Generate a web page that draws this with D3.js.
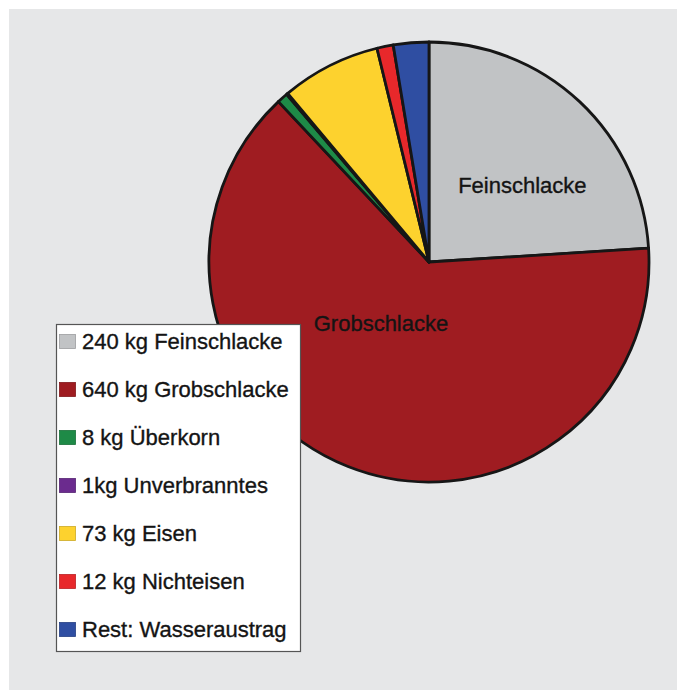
<!DOCTYPE html>
<html>
<head>
<meta charset="utf-8">
<script src="https://cdn.jsdelivr.net/npm/d3@7"></script>
<style>
  html, body { margin: 0; padding: 0; background: #ffffff; }
  svg { display: block; font-family: "Liberation Sans", Arial, Helvetica, sans-serif; }
</style>
</head>
<body>
<svg id="chart"></svg>
<script>
// Anteile der Verbrennungsrückstände (kg je t)
const names = ['Feinschlacke', 'Grobschlacke', 'Überkorn', 'Unverbranntes', 'Eisen', 'Nichteisen', 'Wasseraustrag'];
const values = [240, 640, 8, 1, 73, 12, 26];
const legendLabels = ['240 kg Feinschlacke', '640 kg Grobschlacke', '8 kg Überkorn', '1kg Unverbranntes', '73 kg Eisen', '12 kg Nichteisen', 'Rest: Wasseraustrag'];
const colors = ['#c1c3c5', '#9f1c21', '#1e8a47', '#6b2b8e', '#fdd22e', '#e8282b', '#2f4ea2'];
const sliceLabels = ['Feinschlacke', 'Grobschlacke'];

const WIDTH = 677;
const HEIGHT = 690;
const CENTER = {x: 429, y: 262};
const RADIUS = 220;
// polar position (degrees clockwise from top, distance) of the slice labels
const LABEL_POLAR = {Feinschlacke: [50.5, 121], Grobschlacke: [218, 78]};

const svg = d3.select('#chart')
  .attr('width', WIDTH)
  .attr('height', HEIGHT);

svg.append('rect')
  .attr('x', 9).attr('y', 9)
  .attr('width', WIDTH - 9).attr('height', HEIGHT - 9)
  .attr('fill', '#e6e7e8');

const rows = names.map((n, i) => ({name: n, value: values[i], color: colors[i], legend: legendLabels[i]}));

const pie = d3.pie().sort(null).value(d => d.value);
const arc = d3.arc().innerRadius(0).outerRadius(RADIUS);

const g = svg.append('g').attr('transform', `translate(${CENTER.x},${CENTER.y})`);

g.selectAll('.slice')
  .data(pie(rows))
  .enter()
  .append('path')
  .classed('slice', true)
  .attr('d', arc)
  .attr('fill', d => d.data.color)
  .attr('stroke', '#161616')
  .attr('stroke-width', 2.8)
  .attr('stroke-linejoin', 'round');

g.selectAll('.label')
  .data(sliceLabels)
  .enter()
  .append('text')
  .classed('label', true)
  .attr('transform', d => {
    const p = LABEL_POLAR[d];
    const pt = d3.pointRadial(p[0] * Math.PI / 180, p[1]);
    return `translate(${pt[0]},${pt[1]})`;
  })
  .attr('text-anchor', 'middle')
  .attr('dy', '0.35em')
  .attr('font-size', 22)
  .attr('fill', '#141414')
  .attr('stroke', '#141414')
  .attr('stroke-width', 0.35)
  .text(d => d);

// Legende
const legend = svg.append('g');

legend.append('rect')
  .attr('x', 56.5).attr('y', 324.5)
  .attr('width', 244).attr('height', 327)
  .attr('fill', '#ffffff')
  .attr('stroke', '#555555')
  .attr('stroke-width', 1.2);

const ly = d3.scaleLinear().domain([0, 1]).range([349, 397]);

const items = legend.selectAll('.item')
  .data(rows)
  .enter()
  .append('g')
  .classed('item', true)
  .attr('transform', (d, i) => `translate(0,${ly(i)})`);

items.append('rect')
  .attr('x', 59.5).attr('y', -14.5)
  .attr('width', 16).attr('height', 14)
  .attr('fill', d => d.color)
  .attr('stroke', d => d3.color(d.color).darker(0.6))
  .attr('stroke-width', 0.8);

items.append('text')
  .attr('x', 82)
  .attr('y', 0)
  .attr('font-size', 22)
  .attr('fill', '#141414')
  .attr('stroke', '#141414')
  .attr('stroke-width', 0.35)
  .text(d => d.legend);
</script>
</body>
</html>
